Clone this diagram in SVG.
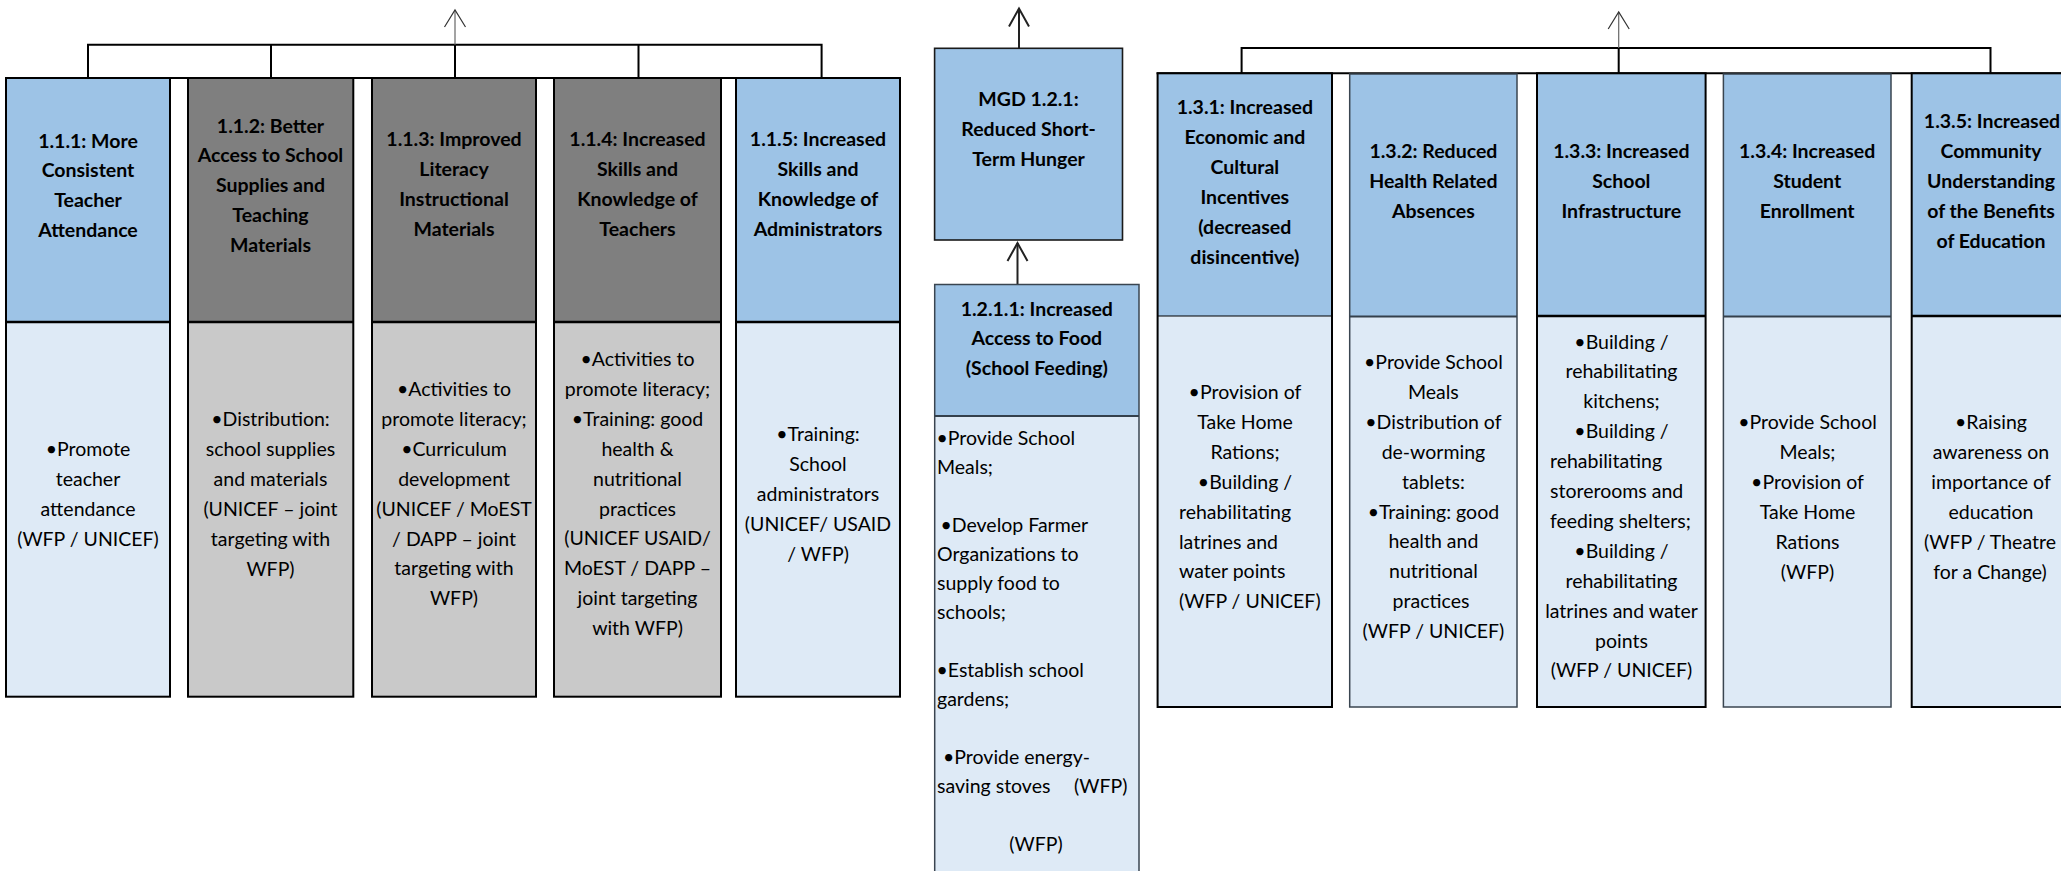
<svg xmlns="http://www.w3.org/2000/svg" width="2061" height="871" viewBox="0 0 2061 871">
<defs>
<style>
.hb{fill:#9DC3E6}.bb{fill:#DEEAF6}.hg{fill:#7F7F7F}.bg{fill:#C9C9C9}
.ol{fill:none;stroke:#000;stroke-width:2}
.olg{fill:none;stroke:#3A4550;stroke-width:1.5}
.dv{stroke:#000;stroke-width:2.7}
.dvt{stroke:#000;stroke-width:1.2}
.dvg{stroke:#34404C;stroke-width:1.8}
.t{font-family:Lato,'Liberation Sans',sans-serif;font-size:19.5px;fill:#000}
.h{font-weight:bold;text-anchor:middle}
.c{text-anchor:middle}
.l{text-anchor:start}
.br{fill:none;stroke:#000;stroke-width:2}
.thin{fill:none;stroke:#666;stroke-width:1.2}
.thick{fill:none;stroke:#222;stroke-width:2}
</style>
<marker id="ah1" markerUnits="userSpaceOnUse" viewBox="-19 -12 21 24" refX="0" refY="0" markerWidth="21" markerHeight="24" orient="auto" overflow="visible">
<path d="M-17,-10.5 L0,0 L-17,10.5" fill="none" stroke="#333" stroke-width="1.2"/>
</marker>
<marker id="ah2" markerUnits="userSpaceOnUse" viewBox="-19 -12 21 24" refX="0" refY="0" markerWidth="21" markerHeight="24" orient="auto" overflow="visible">
<path d="M-18,-10 L0,0 L-18,10" fill="none" stroke="#222" stroke-width="2"/>
</marker>
</defs>
<rect x="0" y="0" width="2061" height="871" fill="#fff"/>

<g id="connectors">
<path class="br" d="M88,77.3 V44.7 H821.6 V77.3 M271,44.7 V77.3 M455,44.7 V77.3 M638.5,44.7 V77.3"/>
<line class="br" x1="5" y1="78" x2="901" y2="78"/>
<line class="thin" x1="455" y1="44.7" x2="455" y2="10" marker-end="url(#ah1)"/>
<path class="br" d="M1241.6,73.3 V48 H1990.5 V73.3 M1618.7,48 V73.3"/>
<line class="br" x1="1156.6" y1="73.3" x2="2061" y2="73.3"/>
<line class="thin" x1="1618.7" y1="48" x2="1618.7" y2="12" marker-end="url(#ah1)"/>
<line class="thick" x1="1019" y1="48" x2="1019" y2="8.5" marker-end="url(#ah2)"/>
<line class="thick" x1="1017.5" y1="284" x2="1017.5" y2="243" marker-end="url(#ah2)"/>
</g>

<g id="n111">
<rect class="hb" x="6" y="78" width="164" height="244"/>
<rect class="bb" x="6" y="322" width="164" height="374.7"/>
<rect class="ol" x="6" y="78" width="164" height="618.7"/>
<line class="dv" x1="6" y1="322" x2="170" y2="322"/>
<text class="t h"><tspan x="88" y="147.5">1.1.1: More</tspan><tspan x="88" y="177.4">Consistent</tspan><tspan x="88" y="207.3">Teacher</tspan><tspan x="88" y="237.2">Attendance</tspan></text>
<text class="t c"><tspan x="88" y="456">•Promote</tspan><tspan x="88" y="485.9">teacher</tspan><tspan x="88" y="515.8">attendance</tspan><tspan x="88" y="545.7">(WFP / UNICEF)</tspan></text>
</g>

<g id="n112">
<rect class="hg" x="188" y="78" width="165.3" height="244"/>
<rect class="bg" x="188" y="322" width="165.3" height="374.7"/>
<rect class="ol" x="188" y="78" width="165.3" height="618.7"/>
<line class="dv" x1="188" y1="322" x2="353.3" y2="322"/>
<text class="t h"><tspan x="270.5" y="132.5">1.1.2: Better</tspan><tspan x="270.5" y="162.4">Access to School</tspan><tspan x="270.5" y="192.3">Supplies and</tspan><tspan x="270.5" y="222.2">Teaching</tspan><tspan x="270.5" y="252.1">Materials</tspan></text>
<text class="t c"><tspan x="270.5" y="426">•Distribution:</tspan><tspan x="270.5" y="455.9">school supplies</tspan><tspan x="270.5" y="485.8">and materials</tspan><tspan x="270.5" y="515.7">(UNICEF – joint</tspan><tspan x="270.5" y="545.6">targeting with</tspan><tspan x="270.5" y="575.5">WFP)</tspan></text>
</g>

<g id="n113">
<rect class="hg" x="372" y="78" width="164" height="244"/>
<rect class="bg" x="372" y="322" width="164" height="374.7"/>
<rect class="ol" x="372" y="78" width="164" height="618.7"/>
<line class="dv" x1="372" y1="322" x2="536" y2="322"/>
<text class="t h"><tspan x="454" y="146">1.1.3: Improved</tspan><tspan x="454" y="175.9">Literacy</tspan><tspan x="454" y="205.8">Instructional</tspan><tspan x="454" y="235.7">Materials</tspan></text>
<text class="t c"><tspan x="454" y="396">•Activities to</tspan><tspan x="454" y="425.9">promote literacy;</tspan><tspan x="454" y="455.8">•Curriculum</tspan><tspan x="454" y="485.7">development</tspan><tspan x="454" y="515.6">(UNICEF / MoEST</tspan><tspan x="454" y="545.5">/ DAPP – joint</tspan><tspan x="454" y="575.4">targeting with</tspan><tspan x="454" y="605.3">WFP)</tspan></text>
</g>

<g id="n114">
<rect class="hg" x="554" y="78" width="167" height="244"/>
<rect class="bg" x="554" y="322" width="167" height="374.7"/>
<rect class="ol" x="554" y="78" width="167" height="618.7"/>
<line class="dv" x1="554" y1="322" x2="721" y2="322"/>
<text class="t h"><tspan x="637.5" y="146">1.1.4: Increased</tspan><tspan x="637.5" y="175.9">Skills and</tspan><tspan x="637.5" y="205.8">Knowledge of</tspan><tspan x="637.5" y="235.7">Teachers</tspan></text>
<text class="t c"><tspan x="637.5" y="366">•Activities to</tspan><tspan x="637.5" y="395.9">promote literacy;</tspan><tspan x="637.5" y="425.8">•Training: good</tspan><tspan x="637.5" y="455.7">health &amp;</tspan><tspan x="637.5" y="485.6">nutritional</tspan><tspan x="637.5" y="515.5">practices</tspan><tspan x="637.5" y="545.4">(UNICEF USAID/</tspan><tspan x="637.5" y="575.3">MoEST / DAPP –</tspan><tspan x="637.5" y="605.2">joint targeting</tspan><tspan x="637.5" y="635.1">with WFP)</tspan></text>
</g>

<g id="n115">
<rect class="hb" x="736" y="78" width="164" height="244"/>
<rect class="bb" x="736" y="322" width="164" height="374.7"/>
<rect class="ol" x="736" y="78" width="164" height="618.7"/>
<line class="dv" x1="736" y1="322" x2="900" y2="322"/>
<text class="t h"><tspan x="818" y="146">1.1.5: Increased</tspan><tspan x="818" y="175.9">Skills and</tspan><tspan x="818" y="205.8">Knowledge of</tspan><tspan x="818" y="235.7">Administrators</tspan></text>
<text class="t c"><tspan x="818" y="441">•Training:</tspan><tspan x="818" y="470.9">School</tspan><tspan x="818" y="500.8">administrators</tspan><tspan x="818" y="530.7">(UNICEF/ USAID</tspan><tspan x="818" y="560.6">/ WFP)</tspan></text>
</g>

<g id="n121">
<rect class="hb" x="934.6" y="48.3" width="187.9" height="191.7" stroke="#1A1A1A" stroke-width="1.6"/>
<text class="t h"><tspan x="1028.5" y="106">MGD 1.2.1:</tspan><tspan x="1028.5" y="135.9">Reduced Short-</tspan><tspan x="1028.5" y="165.8">Term Hunger</tspan></text>
</g>

<g id="n1211">
<rect class="hb" x="934.7" y="284.5" width="204.3" height="131.5"/>
<rect class="bb" x="934.7" y="416" width="204.3" height="470"/>
<rect class="olg" x="934.7" y="284.5" width="204.3" height="601.5"/>
<line class="dvg" x1="934.7" y1="416" x2="1139" y2="416"/>
<text class="t h"><tspan x="1036.8" y="315.5">1.2.1.1: Increased</tspan><tspan x="1036.8" y="345.4">Access to Food</tspan><tspan x="1036.8" y="375.3">(School Feeding)</tspan></text>
<text class="t l"><tspan x="936.5" y="445">•Provide School</tspan><tspan x="937" y="474">Meals;</tspan><tspan x="940.5" y="532">•Develop Farmer</tspan><tspan x="937" y="561">Organizations to</tspan><tspan x="937" y="590">supply food to</tspan><tspan x="937" y="619">schools;</tspan><tspan x="936.5" y="677">•Establish school</tspan><tspan x="937" y="706">gardens;</tspan><tspan x="943" y="764">•Provide energy-</tspan><tspan x="937" y="793">saving stoves</tspan><tspan x="1074" y="793">(WFP)</tspan></text>
<text class="t c" x="1036" y="851">(WFP)</text>
</g>

<g id="n131">
<rect class="hb" x="1157.6" y="73.3" width="174.4" height="242.7"/>
<rect class="bb" x="1157.6" y="316" width="174.4" height="391"/>
<rect class="ol" x="1157.6" y="73.3" width="174.4" height="633.7"/>
<line class="dvt" x1="1157.6" y1="316" x2="1332" y2="316"/>
<text class="t h"><tspan x="1244.8" y="114">1.3.1: Increased</tspan><tspan x="1244.8" y="143.9">Economic and</tspan><tspan x="1244.8" y="173.8">Cultural</tspan><tspan x="1244.8" y="203.7">Incentives</tspan><tspan x="1244.8" y="233.6">(decreased</tspan><tspan x="1244.8" y="263.5">disincentive)</tspan></text>
<text class="t c"><tspan x="1245" y="399">•Provision of</tspan><tspan x="1245" y="428.9">Take Home</tspan><tspan x="1245" y="458.8">Rations;</tspan><tspan x="1245" y="488.7">•Building /</tspan></text>
<text class="t l"><tspan x="1179" y="518.6">rehabilitating</tspan><tspan x="1179" y="548.5">latrines and</tspan><tspan x="1179" y="578.4">water points</tspan><tspan x="1179" y="608.3">(WFP / UNICEF)</tspan></text>
</g>

<g id="n132">
<rect class="hb" x="1349.7" y="74" width="167.3" height="242.5"/>
<rect class="bb" x="1349.7" y="316.5" width="167.3" height="390.5"/>
<rect class="olg" x="1349.7" y="74" width="167.3" height="633"/>
<line class="dvg" x1="1349.7" y1="316.5" x2="1517" y2="316.5"/>
<text class="t h"><tspan x="1433.4" y="158">1.3.2: Reduced</tspan><tspan x="1433.4" y="187.9">Health Related</tspan><tspan x="1433.4" y="217.8">Absences</tspan></text>
<text class="t c"><tspan x="1433.4" y="369">•Provide School</tspan><tspan x="1433.4" y="398.9">Meals</tspan><tspan x="1433.4" y="428.8">•Distribution of</tspan><tspan x="1433.4" y="458.7">de-worming</tspan><tspan x="1433.4" y="488.6">tablets:</tspan><tspan x="1433.4" y="518.5">•Training: good</tspan><tspan x="1433.4" y="548.4">health and</tspan><tspan x="1433.4" y="578.3">nutritional</tspan><tspan x="1431" y="608.2">practices</tspan><tspan x="1433.4" y="638.1">(WFP / UNICEF)</tspan></text>
</g>

<g id="n133">
<rect class="hb" x="1537" y="73.3" width="168.6" height="242.7"/>
<rect class="bb" x="1537" y="316" width="168.6" height="391"/>
<rect class="ol" x="1537" y="73.3" width="168.6" height="633.7"/>
<line class="dv" x1="1537" y1="316" x2="1705.6" y2="316"/>
<text class="t h"><tspan x="1621.3" y="158">1.3.3: Increased</tspan><tspan x="1621.3" y="187.9">School</tspan><tspan x="1621.3" y="217.8">Infrastructure</tspan></text>
<text class="t c"><tspan x="1621.5" y="348.5">•Building /</tspan><tspan x="1621.5" y="378.4">rehabilitating</tspan><tspan x="1621.5" y="408.3">kitchens;</tspan><tspan x="1621.5" y="438.2">•Building /</tspan><tspan x="1621.5" y="557.8">•Building /</tspan><tspan x="1621.5" y="587.7">rehabilitating</tspan><tspan x="1621.5" y="617.6">latrines and water</tspan><tspan x="1621.5" y="647.5">points</tspan><tspan x="1621.5" y="677.4">(WFP / UNICEF)</tspan></text>
<text class="t l"><tspan x="1550" y="468.1">rehabilitating</tspan><tspan x="1550" y="498">storerooms and</tspan><tspan x="1550" y="527.9">feeding shelters;</tspan></text>
</g>

<g id="n134">
<rect class="hb" x="1723.4" y="74" width="167.6" height="242.5"/>
<rect class="bb" x="1723.4" y="316.5" width="167.6" height="390.5"/>
<rect class="olg" x="1723.4" y="74" width="167.6" height="633"/>
<line class="dvg" x1="1723.4" y1="316.5" x2="1891" y2="316.5"/>
<text class="t h"><tspan x="1807.2" y="158">1.3.4: Increased</tspan><tspan x="1807.2" y="187.9">Student</tspan><tspan x="1807.2" y="217.8">Enrollment</tspan></text>
<text class="t c"><tspan x="1807.5" y="429">•Provide School</tspan><tspan x="1807.5" y="458.9">Meals;</tspan><tspan x="1807.5" y="488.8">•Provision of</tspan><tspan x="1807.5" y="518.7">Take Home</tspan><tspan x="1807.5" y="548.6">Rations</tspan><tspan x="1807.5" y="578.5">(WFP)</tspan></text>
</g>

<g id="n135">
<rect class="hb" x="1911.7" y="73.3" width="162" height="242.7"/>
<rect class="bb" x="1911.7" y="316" width="162" height="391"/>
<rect class="ol" x="1911.7" y="73.3" width="162" height="633.7"/>
<line class="dv" x1="1911.7" y1="316" x2="2073.7" y2="316"/>
<text class="t h"><tspan x="1992" y="128">1.3.5: Increased</tspan><tspan x="1991" y="157.9">Community</tspan><tspan x="1991" y="187.8">Understanding</tspan><tspan x="1991" y="217.7">of the Benefits</tspan><tspan x="1991" y="247.6">of Education</tspan></text>
<text class="t c"><tspan x="1991" y="429">•Raising</tspan><tspan x="1991" y="458.9">awareness on</tspan><tspan x="1991" y="488.8">importance of</tspan><tspan x="1991" y="518.7">education</tspan><tspan x="1990" y="548.6">(WFP / Theatre</tspan><tspan x="1990" y="578.5">for a Change)</tspan></text>
</g>
</svg>
